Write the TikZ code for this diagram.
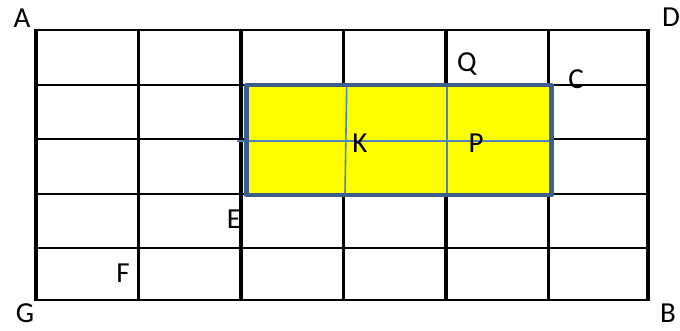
\documentclass[tikz,border=0pt]{standalone}
\usepackage{fontspec}
\setmainfont{Carlito}
\definecolor{rimblue}{HTML}{3D5F8C}
\definecolor{thinblue}{HTML}{4F81BD}
\definecolor{fillyellow}{HTML}{FFFF00}
\begin{document}
\begin{tikzpicture}[x=1pt,y=-1pt,
  vline/.style={line width=3.6pt,black},
  hline/.style={line width=2pt,black},
  lab/.style={font=\fontsize{29}{29}\selectfont,inner sep=0pt,anchor=center}]
\useasboundingbox[fill=white] (0,0) rectangle (680,330);
% horizontal grid lines
\foreach \y in {30,84.5,139,193.5,248,300}
  \draw[hline] (34,\y) -- (650,\y);
% vertical grid lines
\foreach \x in {36,138.5,241,343.5,446,548.5,648}
  \draw[vline] (\x,30) -- (\x,300);
% yellow rectangle
\fill[fillyellow] (246.7,85) rectangle (551.7,195);
\draw[thinblue,line width=1.6pt] (237,141) -- (550,141);
\draw[thinblue,line width=1.6pt] (346.7,87) -- (345,194);
\draw[thinblue,line width=1.6pt] (447,87) -- (447,194);
\draw[rimblue,line width=4.5pt,line join=round] (246.7,85) rectangle (551.7,195);
% labels
\node[lab] (A) at (22,18) {A};
\node[lab] (D) at (671,17) {D};
\node[lab] (Q) at (467,64) {Q};
\node[lab] (C) at (576,79) {C};
\node[lab] (K) at (360,143) {K};
\node[lab] (P) at (476,143) {P};
\node[lab] (E) at (234,219) {E};
\node[lab] (F) at (123,273) {F};
\node[lab] (G) at (25,313) {G};
\node[lab] (B) at (668,313) {B};
\end{tikzpicture}
\end{document}
